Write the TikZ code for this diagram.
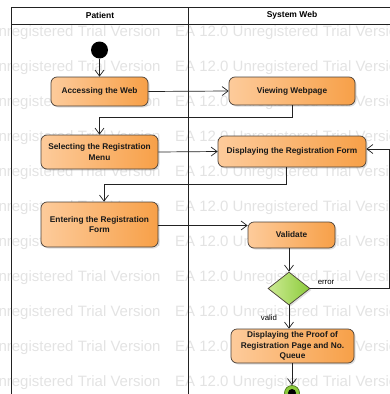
\documentclass[tikz,border=0pt]{standalone}
\usepackage{fontspec}
\setmainfont{Liberation Sans}
\usetikzlibrary{arrows.meta,shapes.geometric,shadows}
\definecolor{orL}{HTML}{FDCB9B}
\definecolor{orR}{HTML}{F7A048}
\definecolor{boxline}{HTML}{4A4038}
\definecolor{grL}{HTML}{CDEB94}
\definecolor{grR}{HTML}{8CCB3C}
\definecolor{grD}{HTML}{4E7A1E}
\definecolor{wm}{HTML}{E3E3E3}
\definecolor{lane}{HTML}{222222}
\begin{document}
\begin{tikzpicture}[x=1pt,y=-1pt,
  act/.style={draw=boxline, line width=0.7pt, rounded corners=6pt,
    left color=orL, right color=orR, text=black!90,
    font=\fontsize{8.3}{10.5}\selectfont\bfseries, align=center, inner sep=0pt,
    drop shadow={opacity=0.25, shadow xshift=1.5pt, shadow yshift=-1.5pt}},
  flow/.style={draw=lane, line width=0.7pt, -{Straight Barb[length=6pt,width=9pt]}},
  wmtext/.style={text=wm, font=\fontsize{15}{18}\selectfont, inner sep=0pt, anchor=base west},
  head/.style={font=\fontsize{8.5}{10}\selectfont\bfseries, inner sep=0pt},
  guard/.style={font=\fontsize{7.8}{9}\selectfont, inner sep=0pt},
  poolline/.style={draw=lane, line width=0.9pt}]
\useasboundingbox (0,0) rectangle (390,394);
\clip (0,0) rectangle (390,394);
% watermark
\foreach \y in {31,66,...,381} {
  \node[wmtext] (wmA\y) at (-70,\y+5) {EA 12.0 Unregistered Trial Version};
  \node[wmtext] (wmB\y) at (175,\y+5) {EA 12.0 Unregistered Trial Version};
}
% swimlanes
\draw[poolline] (11,394) -- (11,7) -- (391,7);
\draw[poolline] (11,24) -- (391,24);
\draw[poolline] (188,7) -- (188,394);
\node[head] (hpat) at (100,15.5) {Patient};
\node[head] (hsys) at (292,15.5) {System Web};
% nodes
\node[circle, fill=black, minimum size=17pt, inner sep=0pt] (init) at (99.5,50) {};
\node[act, minimum width=97pt, minimum height=29pt] (acc) at (99.5,91.5) {Accessing the Web};
\node[act, minimum width=126pt, minimum height=28pt] (view) at (292,91) {Viewing Webpage};
\node[act, minimum width=117pt, minimum height=34pt] (sel) at (99.5,152) {Selecting the Registration\\Menu};
\node[act, minimum width=148pt, minimum height=31pt] (disp) at (292,151.5) {Displaying the Registration Form};
\node[act, minimum width=117pt, minimum height=45pt] (ent) at (99.5,224.5) {Entering the Registration\\Form};
\node[act, minimum width=87pt, minimum height=26pt] (val) at (291.5,235) {Validate};
\node[diamond, draw=boxline, line width=0.7pt, left color=grL, right color=grR,
      minimum width=42pt, minimum height=33pt, inner sep=0pt,
      drop shadow={opacity=0.25, shadow xshift=1.5pt, shadow yshift=-1.5pt}] (dec) at (289,288.5) {};
\node[act, minimum width=123pt, minimum height=34pt] (proof) at (292.5,346) {Displaying the Proof of\\Registration Page and No.\\Queue};
\node[circle, draw=grD, line width=0.7pt, fill=grR, minimum size=15pt, inner sep=0pt] (final) at (292,393) {};
\node[circle, fill=black, minimum size=8pt, inner sep=0pt] (finalc) at (final.center) {};
% connectors
\draw[flow] (init) -- (acc);
\draw[flow] (acc.east) -- (view.west);
\draw[flow] (view.south) -- ++(0,12) -| (sel.north);
\draw[flow] (sel.east) -- (disp.west);
\draw[flow] ([xshift=-6pt]disp.south) -- ++(0,17) -| ([xshift=4.5pt]ent.north);
\draw[flow] ([yshift=-1pt]ent.east) -- ([yshift=-1pt]ent.east -| val.west);
\draw[flow] (val.south -| dec.north) -- (dec.north);
\draw[flow] (dec.east) -- ++(79,0) |- ([yshift=2.5pt]disp.east);
\draw[flow] (dec.south) -- (dec.south |- proof.north);
\draw[flow] (proof.south -| final.north) -- (final.north);
% guards
\node[guard] (gerr) at (326,282) {error};
\node[guard] (gval) at (269,318) {valid};
\end{tikzpicture}
\end{document}
